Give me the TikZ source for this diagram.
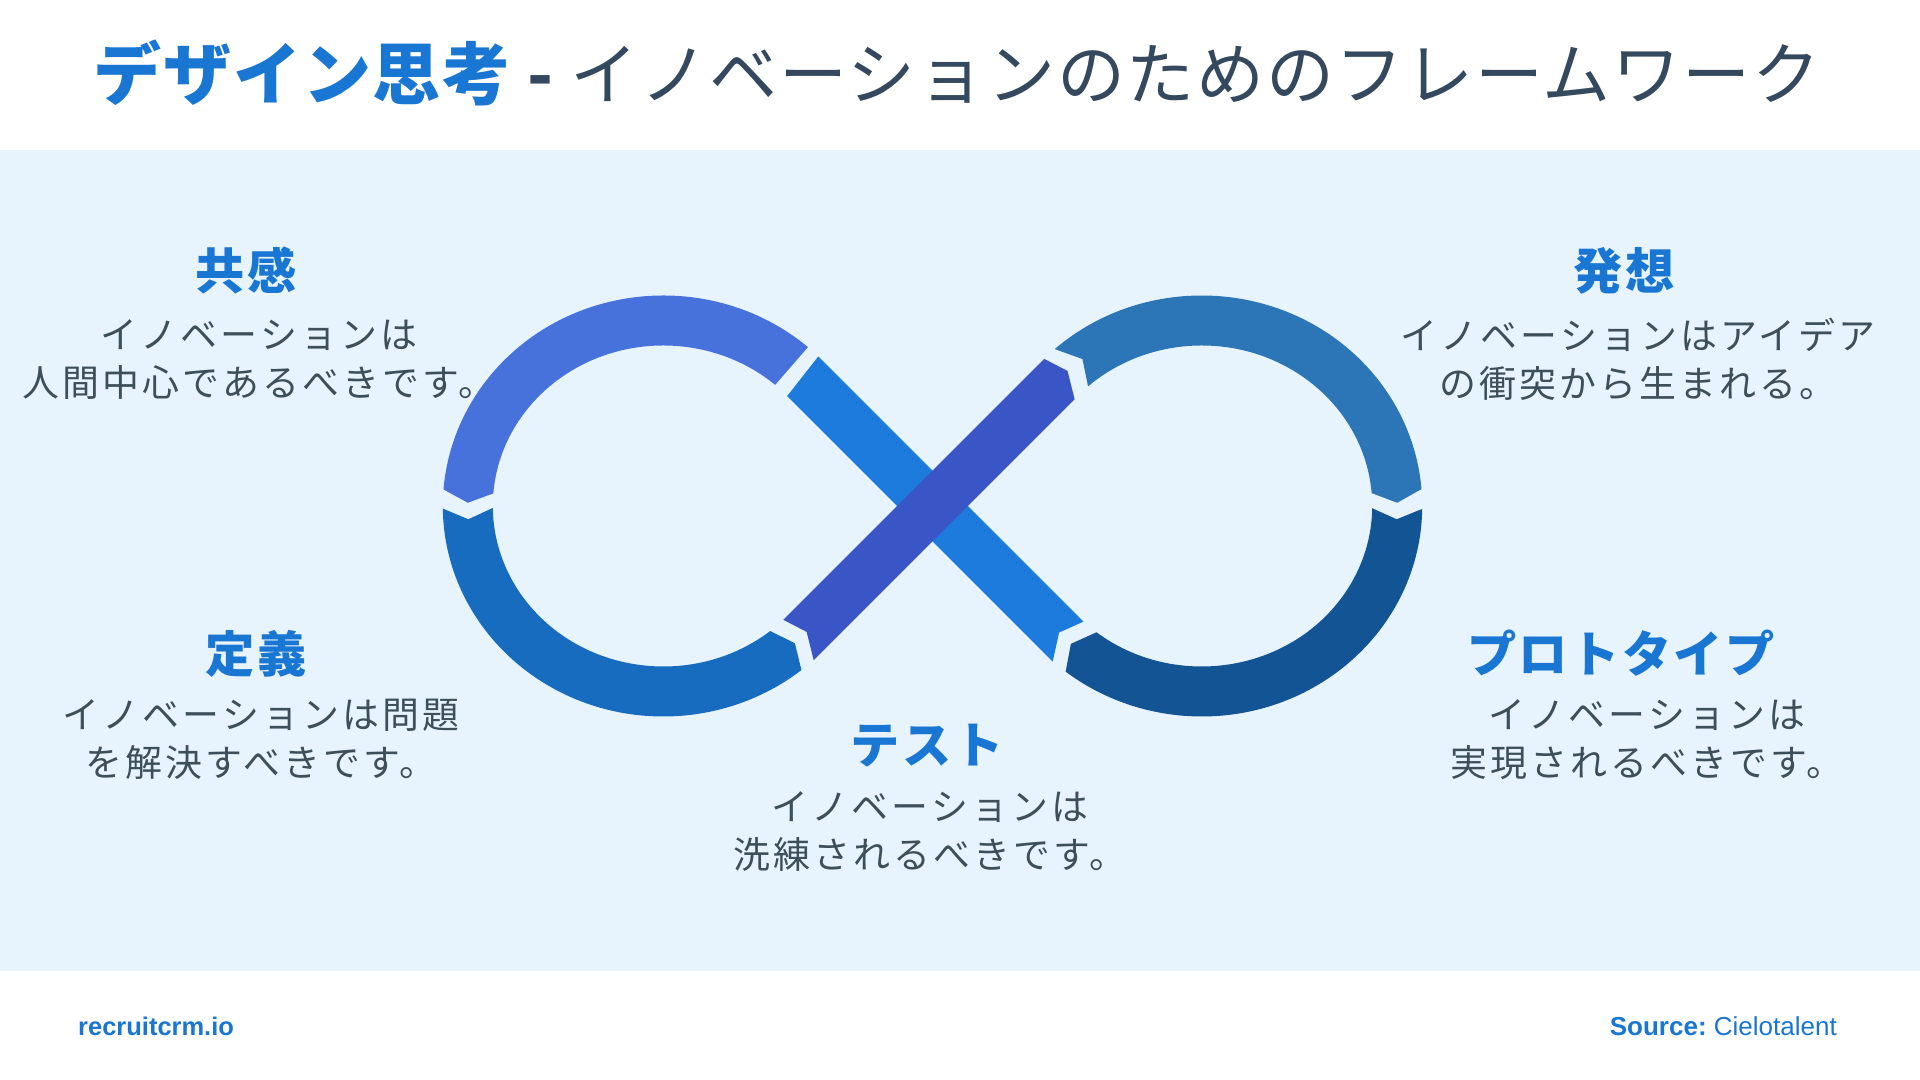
\documentclass[tikz,border=0pt]{standalone}
\usepackage{fontspec}
\setmainfont{Noto Sans CJK JP}
\newfontfamily\titlefont[LetterSpace=2.5]{Noto Sans CJK JP}
\newfontfamily\headfont[LetterSpace=5]{Noto Sans CJK JP}
\newfontfamily\bodyfont[LetterSpace=8.5]{Noto Sans CJK JP}
\newfontfamily\footfont{Liberation Sans}
\usetikzlibrary{positioning}
\usepackage{xcolor}
\definecolor{titleblue}{HTML}{1976D2}
\definecolor{titledark}{HTML}{34495E}
\definecolor{bodygray}{HTML}{3D4F5B}
\definecolor{bandbg}{HTML}{E8F4FD}
\definecolor{loopa}{HTML}{4772DB}
\definecolor{loopb}{HTML}{176CC0}
\definecolor{loopc}{HTML}{2C76B8}
\definecolor{loopd}{HTML}{135495}
\definecolor{crossup}{HTML}{3A55C5}
\definecolor{crossdown}{HTML}{1C7BDD}

\begin{document}
\begin{tikzpicture}[
      head/.style={text=titleblue, font=\headfont\fontsize{28}{32}\selectfont\bfseries, align=center},
      note/.style={text=bodygray, font=\bodyfont\fontsize{21}{27.3}\selectfont, align=center},
      foot/.style={text=titleblue, font=\footfont\fontsize{14.8}{17}\selectfont},
    ]
    \useasboundingbox (0,0) rectangle (38.4,21.6);
    \fill[white] (0,0) rectangle (38.4,21.6);
    \fill[bandbg] (0,2.18) rectangle (38.4,18.6);

    \node[text=titledark, font=\titlefont\fontsize{38.7}{44}\selectfont] (title) at (19.14,20.14)
      {\textcolor{titleblue}{\bfseries デザイン思考} {\bfseries -} イノベーションのためのフレームワーク};

    \coordinate (lc) at (13.266,11.48);
    \coordinate (rc) at (24.034,11.48);
    \coordinate (mid) at (18.65,11.48);

    \begin{scope}[shift={(lc)}]
      \fill[loopa] (49:4.41 and 4.21) arc[start angle=49, end angle=175.5, x radius=4.41, y radius=4.21]
        -- (179:3.91 and 3.71) -- (175.5:3.41 and 3.21) arc[start angle=175.5, end angle=49, x radius=3.41, y radius=3.21] -- cycle;
      \fill[loopb] (180.7:4.41 and 4.21) arc[start angle=180.7, end angle=308.8, x radius=4.41, y radius=4.21]
        -- (312.3:3.91 and 3.71) -- (308.8:3.41 and 3.21) arc[start angle=308.8, end angle=180.7, x radius=3.41, y radius=3.21]
        -- (184.1:3.91 and 3.71) -- cycle;
    \end{scope}
    \begin{scope}[shift={(rc)}]
      \fill[loopc] (131.8:4.41 and 4.21) arc[start angle=131.8, end angle=4.6, x radius=4.41, y radius=4.21]
        -- (1:3.91 and 3.71) -- (4.6:3.41 and 3.21) arc[start angle=4.6, end angle=131.8, x radius=3.41, y radius=3.21]
        -- (127.6:3.91 and 3.71) -- cycle;
      \fill[loopd] (-0.8:4.41 and 4.21) arc[start angle=-0.8, end angle=-128.1, x radius=4.41, y radius=4.21]
        -- (-132:3.91 and 3.71) -- (-128.1:3.41 and 3.21) arc[start angle=-128.1, end angle=-0.8, x radius=3.41, y radius=3.21]
        -- (-4.1:3.91 and 3.71) -- cycle;
    \end{scope}
    \begin{scope}[shift={(mid)}, rotate=135]
      \fill[crossdown] (-3.90,0.5) -- (3.61,0.5) -- (3.73,-0.5) -- (-3.77,-0.5) -- (-3.58,0) -- cycle;
    \end{scope}
    \begin{scope}[shift={(mid)}, rotate=45]
      \fill[crossup] (-3.72,0.5) -- (3.66,0.5) -- (3.82,0) -- (3.52,-0.5) -- (-3.86,-0.5) -- (-3.56,0) -- cycle;
    \end{scope}

    \node[head] (emp) at (4.92,16.18) {共感};
    \node[note] (empnote) at (5.18,14.4) {イノベーションは\\人間中心であるべきです。};
    \node[head] (def) at (5.12,8.52) {定義};
    \node[note] (defnote) at (5.22,6.82) {イノベーションは問題\\を解決すべきです。};
    \node[head] (idea) at (32.48,16.18) {発想};
    \node[note] (ideanote) at (32.76,14.42) {イノベーションはアイデア\\の衝突から生まれる。};
    \node[head] (proto) at (32.42,8.54) {プロトタイプ};
    \node[note] (protonote) at (32.94,6.8) {イノベーションは\\実現されるべきです。};
    \node[head] (test) at (18.54,6.68) {テスト};
    \node[note] (testnote) at (18.6,4.97) {イノベーションは\\洗練されるべきです。};

    \node[foot, anchor=base west, font=\footfont\fontsize{14.5}{17}\selectfont\bfseries] (brand) at (1.44,0.886) {recruitcrm.io};
    \node[foot, anchor=base east] (src) at (36.86,0.886) {{\bfseries Source:}\ Cielotalent};
  \end{tikzpicture}
\end{document}
